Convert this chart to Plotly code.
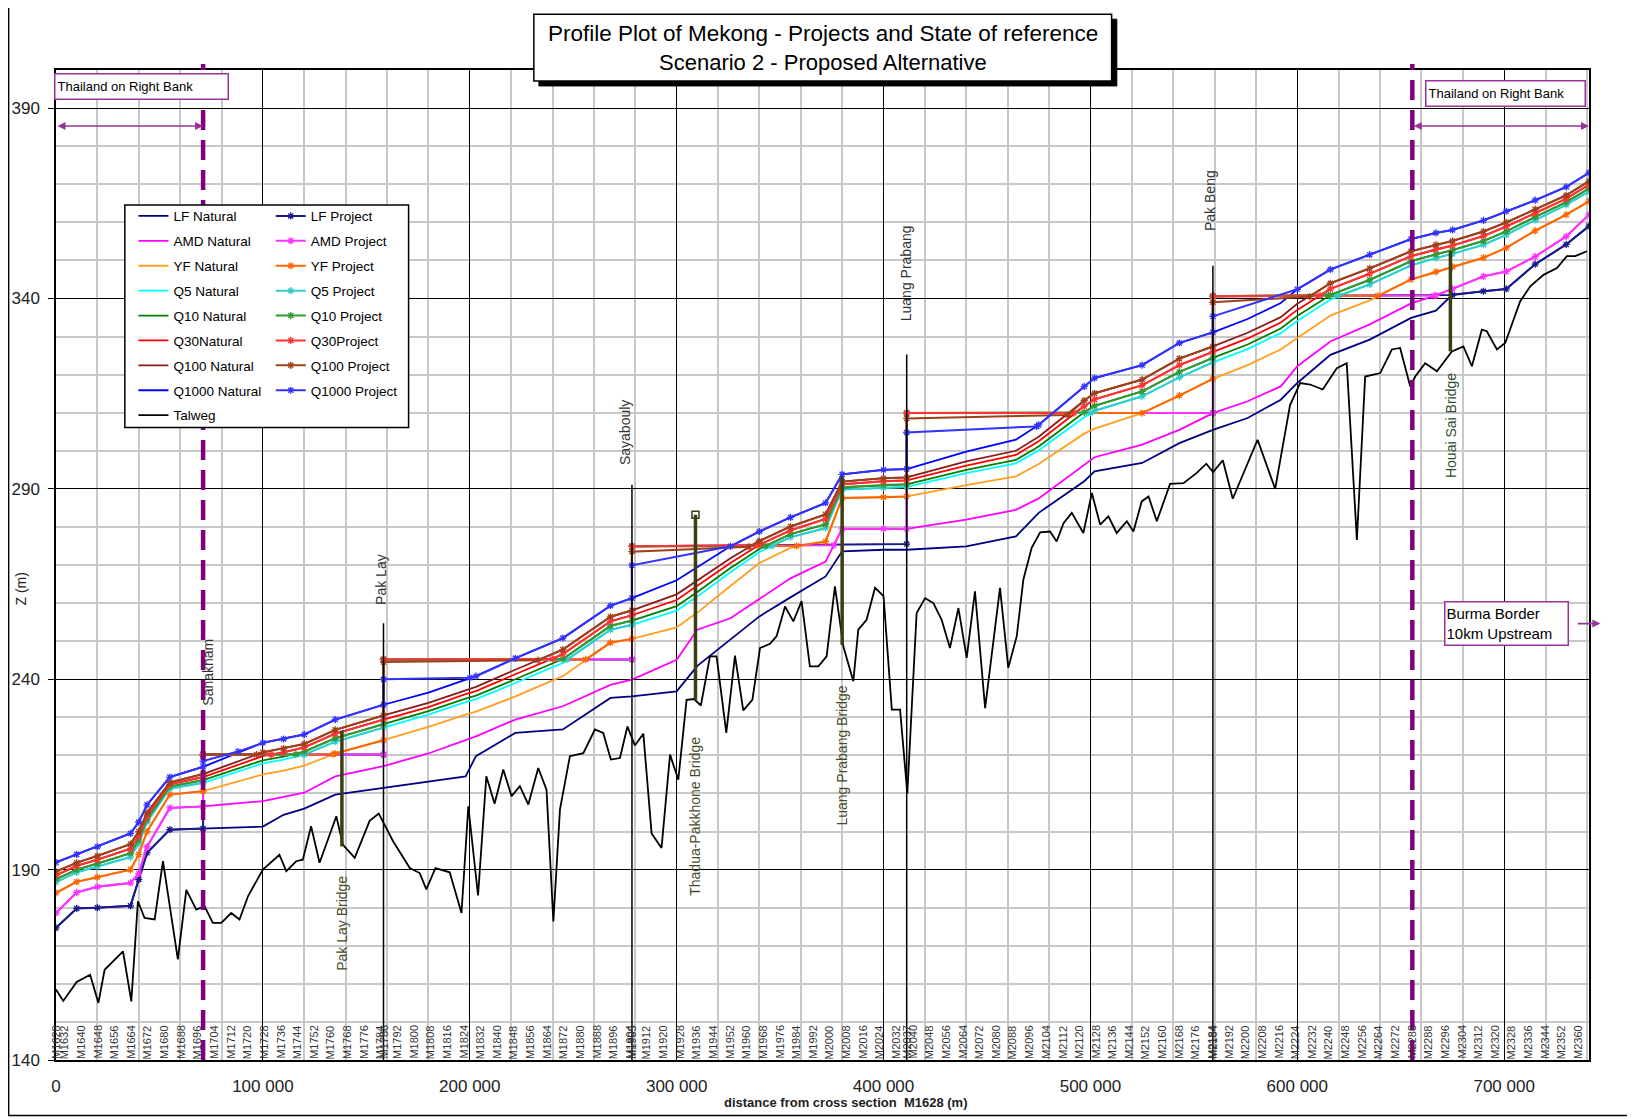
import plotly.graph_objects as go

# ---------------- data (distances in m, levels in m) ----------------
DIST = [0, 10000, 20000, 36000, 40000, 44000, 55000, 71100, 100000, 110000,
        120000, 135000, 158300, 180000, 198000, 203000, 222000, 245000, 268000, 278400,
        300000, 310000, 326000, 340000, 355000, 372000, 380000, 400000, 411200, 440000,
        464000, 475000, 497000, 502000, 525000, 543000, 559200, 576000, 592000, 600000,
        616000, 635000, 655000, 667000, 675000, 690000, 701000, 715000, 730000, 741000]

LF_NAT = [174.7, 179.8, 180.0, 180.5, 187.4, 194.4, 200.5, 200.8, 201.3, 204.4,
          206.0, 209.7, 211.5, 213.2, 214.5, 219.8, 225.9, 226.8, 235.1, 235.5,
          236.8, 243.5, 250.4, 256.5, 261.5, 267.0, 273.6, 274.0, 274.0, 274.9,
          277.5, 283.7, 292.0, 294.6, 296.8, 302.0, 305.5, 308.6, 313.4, 317.8,
          325.2, 329.2, 334.9, 336.8, 341.0, 341.9, 342.5, 349.0, 354.2, 359.0]
AMD_NAT = [178.6, 184.0, 185.5, 186.5, 189.0, 196.0, 206.2, 206.6, 208.0, 209.0,
           210.2, 214.5, 217.2, 220.5, 224.0, 225.0, 229.4, 232.9, 238.5, 239.9,
           245.1, 253.0, 256.0, 261.0, 266.5, 270.9, 279.5, 279.5, 279.5, 281.9,
           284.5, 287.5, 296.5, 298.3, 301.6, 305.5, 309.9, 313.0, 316.9, 322.2,
           328.7, 333.2, 338.7, 340.8, 342.5, 345.8, 347.1, 351.0, 356.3, 362.0]
YF_NAT = [183.9, 186.8, 188.0, 190.0, 194.0, 200.0, 209.7, 210.6, 215.0, 216.0,
          217.3, 220.5, 224.0, 227.5, 230.7, 231.5, 235.5, 240.8, 249.6, 250.6,
          253.6, 257.5, 264.5, 270.5, 274.5, 276.2, 287.6, 287.8, 288.0, 291.0,
          293.3, 296.5, 304.5, 305.8, 309.9, 314.5, 318.9, 322.5, 326.6, 329.6,
          335.5, 339.5, 345.0, 347.0, 348.3, 350.7, 353.3, 357.8, 362.0, 365.5]
Q5_NAT = [186.7, 189.3, 190.8, 193.3, 197.0, 202.5, 211.3, 212.8, 217.9, 218.9,
          220.2, 223.6, 227.3, 230.7, 234.0, 234.8, 239.0, 244.3, 253.0, 254.3,
          258.0, 261.7, 268.1, 273.4, 277.3, 279.7, 289.8, 290.3, 290.5, 294.1,
          296.7, 300.1, 308.8, 310.5, 314.3, 319.3, 323.2, 326.7, 330.9, 334.1,
          339.7, 343.7, 348.7, 350.6, 351.7, 354.1, 356.7, 360.6, 364.6, 368.1]
Q10_NAT = [187.5, 190.0, 191.6, 194.3, 197.8, 203.2, 211.8, 213.5, 218.7, 219.7,
           221.0, 224.5, 228.2, 231.6, 234.9, 235.7, 240.0, 245.3, 254.0, 255.4,
           259.2, 262.9, 269.2, 274.2, 278.1, 280.7, 290.4, 291.0, 291.2, 295.0,
           297.6, 301.1, 310.1, 311.8, 315.6, 320.7, 324.4, 327.9, 332.1, 335.4,
           340.9, 344.9, 349.8, 351.6, 352.7, 355.1, 357.6, 361.4, 365.3, 368.9]
Q30_NAT = [188.5, 191.0, 192.6, 195.5, 198.9, 204.1, 212.4, 214.3, 219.8, 220.8,
           222.1, 225.7, 229.4, 232.7, 236.1, 236.9, 241.3, 246.6, 255.2, 256.8,
           260.8, 264.5, 270.5, 275.3, 279.1, 282.1, 291.2, 292.0, 292.2, 296.1,
           298.9, 302.5, 311.7, 313.5, 317.2, 322.5, 326.0, 329.5, 333.7, 337.0,
           342.5, 346.5, 351.1, 352.9, 353.9, 356.4, 358.9, 362.4, 366.2, 369.9]
Q100_NAT = [189.5, 191.8, 193.6, 196.7, 200.0, 204.9, 212.9, 215.1, 220.8, 221.8,
            223.0, 226.7, 230.5, 233.8, 237.2, 238.0, 242.5, 247.8, 256.4, 258.1,
            262.3, 265.9, 271.8, 276.3, 280.1, 283.3, 291.9, 292.8, 293.0, 297.2,
            300.0, 303.7, 313.2, 315.1, 318.7, 324.2, 327.4, 331.0, 335.1, 338.6,
            344.0, 347.9, 352.4, 354.1, 355.1, 357.6, 360.0, 363.4, 367.1, 370.8]
Q1000_NAT = [191.9, 194.0, 196.0, 199.5, 202.5, 207.0, 214.3, 217.0, 223.3, 224.3,
             225.5, 229.4, 233.3, 236.5, 240.0, 240.8, 245.5, 250.8, 259.3, 261.3,
             266.0, 269.5, 274.9, 278.8, 282.5, 286.3, 293.8, 295.0, 295.2, 299.8,
             302.9, 306.8, 316.9, 319.1, 322.5, 328.3, 331.1, 334.6, 338.8, 342.4,
             347.6, 351.5, 355.6, 357.2, 358.0, 360.5, 362.9, 365.8, 369.3, 373.0]

# reservoir water surfaces in the project state: (start x, start z, end x, end z)
LF_POOLS = [(71100, 220.2, 158300, 220.2), (158300, 245.2, 278400, 245.2),
            (278400, 274.9, 411200, 275.5), (411200, 309.9, 559200, 309.9),
            (559200, 340.6, 675000, 340.9)]
AMD_POOLS = [(71100, 220.2, 158300, 220.2), (158300, 245.2, 278400, 245.2),
             (278400, 274.9, 376000, 275.2), (411200, 309.9, 559200, 309.9),
             (559200, 340.6, 666000, 340.7)]
YF_POOLS = [(71100, 220.2, 134000, 220.3), (158300, 245.2, 256000, 245.2),
            (278400, 274.9, 358000, 275.0), (411200, 309.9, 525000, 309.9),
            (559200, 340.6, 639000, 340.7)]
Q5_POOLS = [(71100, 220.2, 120000, 220.2), (158300, 245.2, 247000, 245.2),
            (278400, 274.9, 346000, 275.0), (411200, 309.9, 500000, 309.9),
            (559200, 340.6, 620000, 340.8)]
Q10_POOLS = [(71100, 220.2, 116000, 220.3), (158300, 245.2, 245000, 245.3),
             (278400, 274.9, 343000, 275.0), (411200, 309.9, 497000, 310.1),
             (559200, 340.6, 615000, 340.8)]
Q30_POOLS = [(71100, 220.2, 104000, 220.2), (158300, 245.2, 240000, 245.3),
             (278400, 274.9, 339000, 275.2), (411200, 309.9, 492000, 309.9),
             (559200, 340.6, 611000, 340.8)]
Q100_POOLS = [(71100, 220.2, 97000, 220.2), (158300, 244.5, 233000, 245.0),
              (278400, 273.5, 335000, 274.8), (411200, 308.5, 489000, 309.4),
              (559200, 339.0, 606000, 340.5)]
Q1000_POOLS = [(71100, 218.5, 88000, 221.0), (158300, 240.0, 200000, 240.4),
               (278400, 269.9, 326000, 274.9), (411200, 304.8, 474000, 306.4),
               (559200, 335.3, 600000, 342.4)]

TALWEG_X = [0, 3500, 10000, 16500, 20500, 23500, 32400, 36400, 39600, 42800,
            47700, 51700, 58900, 63000, 67800, 71800, 75800, 79900, 84700, 88700,
            92800, 100000, 108000, 111300, 116100, 119300, 123300, 127400, 135500, 138700,
            144400, 151600, 156000, 159000, 163000, 171000, 175800, 179000, 183400, 190300,
            196000, 199300, 204000, 208000, 212000, 216200, 220200, 224200, 228300, 233100,
            237100, 240400, 243600, 248400, 254900, 260500, 264500, 268200, 272600, 276200,
            279800, 283900, 287900, 292700, 296800, 300800, 304800, 308400, 311700, 316100,
            319300, 324000, 328200, 332200, 336600, 340300, 345100, 348300, 352400, 356400,
            360400, 364400, 368500, 372500, 376500, 380600, 385400, 387800, 391800, 395900,
            400000, 404000, 408000, 411500, 416000, 420100, 424100, 428100, 432100, 436200,
            440200, 444200, 449100, 456300, 460300, 464400, 467600, 471600, 475700, 480500,
            483700, 487000, 491000, 496600, 500700, 504700, 508700, 512700, 517600, 520800,
            524800, 528100, 532100, 538500, 545000, 551400, 556000, 559300, 564000, 568800,
            580800, 589300, 596500, 601400, 606200, 612300, 619100, 623900, 628800, 632800,
            640100, 645700, 649700, 654600, 657000, 661800, 667500, 674700, 680300, 684400,
            689200, 691600, 696500, 700500, 702900, 707700, 712600, 719000, 725500, 730300,
            734300, 740000]
TALWEG_Z = [158.5, 155.5, 160.5, 162.4, 155.0, 163.7, 168.5, 155.4, 181.7, 177.3,
            176.9, 192.2, 166.4, 184.7, 179.5, 180.4, 176.0, 176.0, 178.6, 176.9,
            183.0, 190.0, 193.9, 189.6, 192.2, 192.6, 201.4, 191.8, 204.0, 196.5,
            193.1, 202.8, 204.7, 201.6, 197.4, 190.4, 189.1, 184.8, 190.4, 189.3,
            178.6, 206.6, 183.2, 214.5, 207.3, 216.3, 209.3, 211.9, 207.1, 216.7,
            211.0, 176.4, 205.8, 219.8, 220.6, 226.8, 225.9, 218.9, 219.3, 227.6,
            222.6, 225.7, 199.5, 195.7, 220.2, 213.6, 234.6, 234.8, 233.1, 246.0,
            246.0, 225.9, 246.2, 231.8, 234.6, 248.2, 249.3, 251.3, 259.1, 255.2,
            260.5, 243.4, 243.4, 246.0, 264.4, 248.6, 239.5, 253.0, 255.6, 264.0,
            261.8, 232.0, 232.0, 210.0, 257.4, 261.3, 260.0, 255.6, 248.2, 258.7,
            245.6, 263.1, 232.4, 264.0, 243.0, 251.3, 266.2, 274.5, 278.6, 278.8,
            276.2, 281.0, 283.7, 278.4, 288.9, 280.6, 282.8, 278.4, 281.5, 278.8,
            286.7, 288.0, 281.5, 291.3, 291.5, 294.2, 296.6, 294.4, 297.5, 287.4,
            302.9, 290.0, 312.0, 317.8, 317.4, 316.1, 321.7, 323.0, 276.6, 319.5,
            320.4, 326.6, 327.0, 316.9, 319.5, 323.0, 320.9, 326.1, 327.4, 322.2,
            331.8, 331.4, 326.6, 328.3, 331.8, 339.2, 343.2, 346.2, 348.0, 351.1,
            351.1, 352.4]

NAT_NAMES = ["LF Natural", "AMD Natural", "YF Natural", "Q5 Natural", "Q10 Natural",
             "Q30Natural", "Q100 Natural", "Q1000 Natural"]
PROJ_NAMES = ["LF Project", "AMD Project", "YF Project", "Q5 Project", "Q10 Project",
              "Q30Project", "Q100 Project", "Q1000 Project"]
NAT_VALUES = [LF_NAT, AMD_NAT, YF_NAT, Q5_NAT, Q10_NAT, Q30_NAT, Q100_NAT, Q1000_NAT]
POOLS = [LF_POOLS, AMD_POOLS, YF_POOLS, Q5_POOLS, Q10_POOLS, Q30_POOLS, Q100_POOLS, Q1000_POOLS]
NAT_COLORS = ["#000080", "#ff00ff", "#ffa020", "#00ffff", "#008000", "#ff0000", "#8b1a1a", "#0000ff"]
PROJ_COLORS = ["#1a1a8c", "#ff33ff", "#ff6600", "#33cccc", "#339933", "#ff3333", "#a0401a", "#3333ff"]

SANAKHAM_X = 71100
BORDER_X = 655600
DAM_NAMES = ["Pak Lay", "Sayabouly", "Luang Prabang", "Pak Beng"]
DAM_X = [158300, 278400, 411200, 559200]
DAM_TOP = [254.7, 291.1, 325.3, 348.6]
DAM_LABEL_X = [157300, 275300, 411000, 557700]
DAM_LABEL_Z = [266.2, 304.8, 346.7, 365.8]

BRIDGE_NAMES = ["Pak Lay Bridge", "Thadua-Pakkhone Bridge", "Luang Prabang Bridge", "Houai Sai Bridge"]
BRIDGE_X = [138200, 309100, 380000, 674000]
BRIDGE_BOTTOM = [196.1, 234.6, 249.0, 326.1]
BRIDGE_TOP = [226.5, 283.2, 293.3, 352.5]
BRIDGE_LABEL_Z = [176.0, 204.0, 220.0, 306.6]
BRIDGE_LABEL_COLORS = ["#4a4a2a", "#4a4a2a", "#4a4a2a", "#2e4d2e"]

SECTION_NUMBERS = [1628] + list(range(1632, 2365, 8))
SECTION_X = [(n - 1628) * 1005 for n in SECTION_NUMBERS]
SECTION_NUMBERS += [1786, 1905, 2037, 2184]
SECTION_X += [158300, 278400, 411200, 559200]

FONT = "Liberation Sans, Arial, sans-serif"


def project_profile(nat, pools):
    xs, zs = [], []
    cur = -1
    for (xa, za, xb, zb) in pools:
        if cur < xa:
            for x, z in zip(DIST, nat):
                if cur < x <= xa:
                    xs.append(x)
                    zs.append(z)
        xs += [xa, xb]
        zs += [za, zb]
        cur = xb
    for x, z in zip(DIST, nat):
        if x > cur:
            xs.append(x)
            zs.append(z)
    return xs, zs


fig = go.Figure()

# natural lines (legend 1)
for i, (name, vals, col) in enumerate(zip(NAT_NAMES, NAT_VALUES, NAT_COLORS)):
    fig.add_trace(go.Scatter(x=DIST, y=vals, mode="lines", name=name,
                             line=dict(color=col, width=1.8),
                             legend="legend", legendgroup="n%d" % i))
fig.add_trace(go.Scatter(x=TALWEG_X, y=TALWEG_Z, mode="lines", name="Talweg",
                         line=dict(color="black", width=1.8),
                         legend="legend", legendgroup="talweg"))

# project lines (legend 2)
for i, (name, vals, pools, col) in enumerate(zip(PROJ_NAMES, NAT_VALUES, POOLS, PROJ_COLORS)):
    px, pz = project_profile(vals, pools)
    fig.add_trace(go.Scatter(x=px, y=pz, mode="lines+markers", name=name,
                             line=dict(color=col, width=2),
                             marker=dict(symbol="asterisk-open", size=6,
                                         color=col, line=dict(color=col, width=1.3)),
                             legend="legend2", legendgroup="p%d" % i))

# bridge top marker (Thadua-Pakkhone)
fig.add_trace(go.Scatter(x=[BRIDGE_X[1]], y=[BRIDGE_TOP[1]], mode="markers",
                         marker=dict(symbol="square-open", size=7, color="#3d3d14",
                                     line=dict(width=1.5, color="#3d3d14")),
                         showlegend=False, hoverinfo="skip"))

shapes = []
# outer frame
shapes.append(dict(type="rect", xref="paper", yref="paper", x0=-0.0309, x1=1.0289,
                   y0=-0.056, y1=1.066, line=dict(color="black", width=1.5), layer="above"))
# dam lines
for x, top in zip(DAM_X, DAM_TOP):
    shapes.append(dict(type="line", xref="x", yref="y", x0=x, x1=x, y0=140, y1=top,
                       line=dict(color="black", width=1.5), layer="above"))
# purple dashed lines
for x in [SANAKHAM_X, BORDER_X]:
    shapes.append(dict(type="line", xref="x", yref="paper", x0=x, x1=x, y0=0, y1=1.006,
                       line=dict(color="#800080", width=4.5, dash="20px,10px"), layer="above"))
# bridges
for x, b, t in zip(BRIDGE_X, BRIDGE_BOTTOM, BRIDGE_TOP):
    shapes.append(dict(type="line", xref="x", yref="y", x0=x, x1=x, y0=b, y1=t,
                       line=dict(color="#3d3d14", width=3.5), layer="above"))
# legend box
shapes.append(dict(type="rect", xref="paper", yref="paper", x0=0.0449, x1=0.2300,
                   y0=0.639, y1=0.8636, line=dict(color="black", width=1.5),
                   fillcolor="white", layer="above"))
# title box shadow and box
shapes.append(dict(type="rect", xref="paper", yref="paper", x0=0.3150, x1=0.6920,
                   y0=0.9839, y1=1.0513, line=dict(color="black", width=1),
                   fillcolor="black", layer="above"))
shapes.append(dict(type="rect", xref="paper", yref="paper", x0=0.3117, x1=0.6886,
                   y0=0.9889, y1=1.0563, line=dict(color="black", width=1.5),
                   fillcolor="white", layer="above"))

ann = []
ann.append(dict(xref="paper", yref="paper", x=0.5, y=1.0373, showarrow=False,
                text="Profile Plot of Mekong - Projects and State of reference",
                font=dict(family=FONT, size=22.5, color="black"), xanchor="center", yanchor="middle"))
ann.append(dict(xref="paper", yref="paper", x=0.5, y=1.0078, showarrow=False,
                text="Scenario 2 - Proposed Alternative",
                font=dict(family=FONT, size=22, color="black"), xanchor="center", yanchor="middle"))
# axis titles
ann.append(dict(xref="paper", yref="paper", x=0.515, y=-0.0425, showarrow=False,
                text="<b>distance from cross section  M1628 (m)</b>",
                font=dict(family=FONT, size=13, color="#222"), xanchor="center", yanchor="middle"))
ann.append(dict(xref="paper", yref="paper", x=-0.023, y=0.476, showarrow=False,
                text="Z (m)", textangle=-90,
                font=dict(family=FONT, size=14, color="#222"), xanchor="center", yanchor="middle"))
# Thailand boxes
for x, y, w in [(-0.001, 0.9973, 168), (0.8927, 0.9899, 154)]:
    ann.append(dict(xref="paper", yref="paper", x=x, y=y, showarrow=False,
                    text="Thailand on Right Bank", align="left", width=w, height=20,
                    xanchor="left", yanchor="top", bgcolor="white",
                    bordercolor="#993399", borderwidth=1.5, borderpad=2,
                    font=dict(family=FONT, size=13, color="black")))
# Thailand arrows
for xa, xb in [(0, SANAKHAM_X), (BORDER_X, 741000)]:
    ann.append(dict(xref="x", yref="y", axref="x", ayref="y", x=xb, y=385.3, ax=xa, ay=385.3,
                    text="", showarrow=True, arrowhead=2, arrowside="end+start",
                    arrowsize=1, arrowwidth=1.6, arrowcolor="#993399", standoff=0, startstandoff=0))
# Burma box and arrow
ann.append(dict(xref="paper", yref="paper", x=0.9051, y=0.4633, showarrow=False,
                text="Burma Border<br>10km Upstream", align="left", width=120, height=40,
                xanchor="left", yanchor="top", bgcolor="white",
                bordercolor="#993399", borderwidth=1.5, borderpad=1,
                font=dict(family=FONT, size=15, color="black")))
ann.append(dict(xref="paper", yref="paper", x=1.0074, y=0.4408, ax=-24, ay=0,
                text="", showarrow=True, arrowhead=2, arrowsize=1, arrowwidth=1.6,
                arrowcolor="#993399"))
# dam labels
ann.append(dict(xref="x", yref="y", x=73600, y=241.8, text="Sanakham", textangle=-90,
                showarrow=False, font=dict(family=FONT, size=14, color="#333"),
                xanchor="center", yanchor="middle"))
for name, x, z in zip(DAM_NAMES, DAM_LABEL_X, DAM_LABEL_Z):
    ann.append(dict(xref="x", yref="y", x=x, y=z, text=name, textangle=-90,
                    showarrow=False, font=dict(family=FONT, size=14, color="#333"),
                    xanchor="center", yanchor="middle"))
for name, x, z, c in zip(BRIDGE_NAMES, BRIDGE_X, BRIDGE_LABEL_Z, BRIDGE_LABEL_COLORS):
    ann.append(dict(xref="x", yref="y", x=x, y=z, text=name, textangle=-90,
                    showarrow=False, font=dict(family=FONT, size=14, color=c),
                    xanchor="center", yanchor="middle"))
# cross-section labels
for n, x in zip(SECTION_NUMBERS, SECTION_X):
    ann.append(dict(xref="x", yref="y", x=x, y=140, text="M%d" % n, textangle=-90,
                    showarrow=False, font=dict(family=FONT, size=11, color="#333"),
                    xanchor="center", yanchor="bottom", borderpad=0))

# the page body has an 8 px margin, so the figure is 8 px smaller and shifted
fig.update_layout(
    width=1627, height=1111, autosize=False,
    margin=dict(l=48, r=46, t=62, b=59),
    paper_bgcolor="white", plot_bgcolor="white",
    separators=". ",
    font=dict(family=FONT, color="black"),
    shapes=shapes, annotations=ann,
    xaxis=dict(range=[0, 741000], tick0=0, dtick=100000, tickformat=",d",
               showgrid=True, gridcolor="black", gridwidth=1.3,
               minor=dict(dtick=20000, tick0=0, showgrid=True, gridcolor="#c8c8c8", gridwidth=1.5),
               showline=True, mirror=True, linecolor="black", linewidth=1.5,
               zeroline=False, ticks="", ticklabelstandoff=10, automargin=False,
               tickfont=dict(family=FONT, size=17, color="#222")),
    yaxis=dict(range=[140, 400], tick0=140, dtick=50,
               showgrid=True, gridcolor="black", gridwidth=1.3,
               minor=dict(dtick=10, tick0=140, showgrid=True, gridcolor="#c8c8c8", gridwidth=1.5),
               showline=True, mirror=True, linecolor="black", linewidth=1.5,
               zeroline=False, ticks="outside", ticklen=6, tickcolor="black",
               ticklabelstandoff=5, automargin=False,
               tickfont=dict(family=FONT, size=17, color="#222")),
    legend=dict(x=0.0505, y=0.868, xanchor="left", yanchor="top",
                bgcolor="rgba(0,0,0,0)", borderwidth=0, traceorder="grouped",
                tracegroupgap=4.35, itemwidth=30,
                font=dict(family=FONT, size=13.5, color="black")),
    legend2=dict(x=0.1401, y=0.868, xanchor="left", yanchor="top",
                 bgcolor="rgba(0,0,0,0)", borderwidth=0, traceorder="grouped",
                 tracegroupgap=4.35, itemwidth=30,
                 font=dict(family=FONT, size=13.5, color="black")),
    showlegend=True,
)

fig.write_html("out.html")
